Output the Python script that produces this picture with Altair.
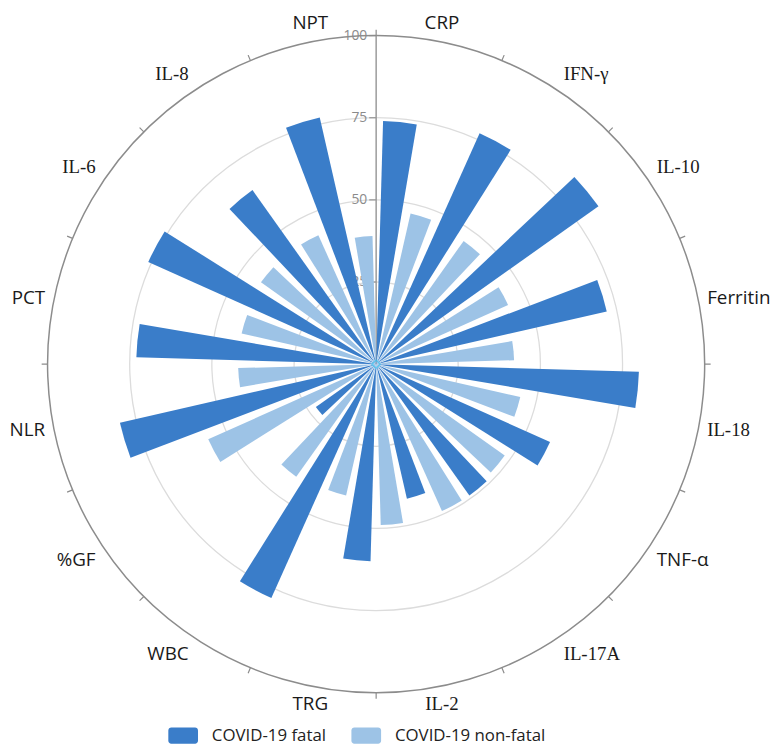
import math
import altair as alt
import pandas as pd

# ---------------- data ----------------
categories = ["CRP", "IFN-γ", "IL-10", "Ferritin", "IL-18", "TNF-α", "IL-17A", "IL-2",
              "TRG", "WBC", "%GF", "NLR", "PCT", "IL-6", "IL-8", "NPT"]
fatal = [74, 77, 83, 72, 80, 58, 49, 42, 60, 78, 22.5, 80, 73, 76, 65, 77]
nonfatal = [47, 46, 44, 42, 45, 48, 49, 49, 41, 42, 56, 42, 42, 43, 43, 39]
series_names = ["COVID-19 fatal", "COVID-19 non-fatal"]
grid_levels = [25, 50, 75]
axis_levels = [25, 50, 75, 100]
axis_max = [100]

# ---------------- layout / style ----------------
W, H = 744, 712
CX, CY = W / 2, H / 2
R = 332
DARK = "#3a7dc9"
LIGHT = "#9dc3e6"
FULL = 6.283  # just under a full turn, so each ring is drawn as a closed arc band

n_cat = len(categories)
n_slot = 2 * n_cat

bars = pd.DataFrame({
    "category": categories * 2,
    "series": [series_names[0]] * n_cat + [series_names[1]] * n_cat,
    "value": fatal + nonfatal,
    "cat_idx": list(range(n_cat)) * 2,
    "ser_idx": [0] * n_cat + [1] * n_cat,
})
labels_df = pd.DataFrame({"label": categories, "pos": list(range(n_cat))})

theta_scale = alt.Scale(domain=[0, 360], range=[0, 2 * math.pi])
r_scale = alt.Scale(type="linear", domain=[0, 100], range=[0, R], zero=True)
y_scale = alt.Scale(type="linear", domain=[0, 100], range=[CY, CY - R], zero=True)


def ring(values, color, width):
    return alt.Chart(pd.DataFrame({"lvl": values})).mark_arc(
        fillOpacity=0, stroke=color, strokeWidth=width
    ).encode(
        theta=alt.value(0), theta2=alt.value(FULL),
        radius=alt.Radius("lvl:Q", scale=r_scale),
        radius2="lvl:Q",
        x=alt.value(CX), y=alt.value(CY),
    )


grid = ring(grid_levels, "#dcdcdc", 1.3)
outer = ring(axis_max, "#8c8c8c", 1.5)

axis_line = alt.Chart(pd.DataFrame({"v": axis_max})).mark_rule(
    color="#9a9a9a", strokeWidth=1.5
).encode(
    x=alt.value(CX), y=alt.Y("v:Q", scale=y_scale, axis=None), y2=alt.value(CY)
)

axis_ticks = alt.Chart(pd.DataFrame({"v": axis_levels})).mark_rule(
    color="#9a9a9a", strokeWidth=1.3
).encode(
    x=alt.value(CX - 7), x2=alt.value(CX), y=alt.Y("v:Q", scale=y_scale, axis=None)
)

axis_text = alt.Chart(pd.DataFrame({"v": axis_levels})).mark_text(
    align="right", baseline="middle", fontSize=14, font="Open Sans", color="#8a8a8a"
).encode(
    x=alt.value(CX - 9), y=alt.Y("v:Q", scale=y_scale, axis=None), text="v:Q"
)

bar_layer = alt.Chart(bars).transform_calculate(
    a0=f"(2 * datum.cat_idx + datum.ser_idx) * 360 / {n_slot}",
    a1=f"(2 * datum.cat_idx + datum.ser_idx + 1) * 360 / {n_slot}",
).mark_arc(padAngle=0.057).encode(
    theta=alt.Theta("a0:Q", scale=theta_scale, stack=False),
    theta2="a1:Q",
    radius=alt.Radius("value:Q", scale=r_scale),
    radius2=alt.value(0),
    color=alt.Color("series:N",
                    scale=alt.Scale(domain=series_names, range=[DARK, LIGHT]),
                    legend=alt.Legend(title=None)),
    x=alt.value(CX), y=alt.value(CY),
)

outer_ticks = alt.Chart(labels_df).transform_calculate(
    ang=f"datum.pos * 360 / {n_cat}"
).mark_arc(fillOpacity=0, stroke="#8c8c8c", strokeWidth=1.2).encode(
    theta=alt.Theta("ang:Q", scale=theta_scale, stack=False),
    theta2="ang:Q",
    radius=alt.value(R + 6), radius2=alt.value(R),
    x=alt.value(CX), y=alt.value(CY),
)

label_layer = alt.Chart(labels_df).transform_calculate(
    ang=f"(datum.pos + 0.5) * 360 / {n_cat}"
).mark_text(
    fontSize=19, color="#1a1a1a",
    align={"expr": "abs(sin(datum.ang * PI / 180)) < 0.4 ? 'center' : (sin(datum.ang * PI / 180) > 0 ? 'left' : 'right')"},
    baseline={"expr": "cos(datum.ang * PI / 180) > 0.45 ? 'bottom' : (cos(datum.ang * PI / 180) < -0.45 ? 'top' : 'middle')"},
    font={"expr": "indexof(datum.label, 'I') == 0 ? 'Liberation Serif' : 'Open Sans'"},
).encode(
    theta=alt.Theta("ang:Q", scale=theta_scale, stack=False),
    radius=alt.value(R + 9),
    text="label:N",
    x=alt.value(CX), y=alt.value(CY),
)

center = alt.Chart(pd.DataFrame({"v": axis_max})).mark_point(
    shape="diamond", filled=False, color="#3fc1f0", size=70, strokeWidth=1.5
).encode(x=alt.value(CX), y=alt.value(CY))

chart = alt.layer(
    grid, axis_line, axis_ticks, axis_text, bar_layer, outer, outer_ticks, label_layer, center
).properties(
    width=W, height=H,
    padding={"left": 0, "top": 0, "right": 28, "bottom": 28},
    autosize="none",
).configure_view(stroke=None).configure_legend(
    orient="none", legendX=162, legendY=716, direction="horizontal",
    symbolType="M-0.8,-0.55H0.8A0.2,0.2 0 0 1 1,-0.35V0.35A0.2,0.2 0 0 1 0.8,0.55H-0.8A0.2,0.2 0 0 1 -1,0.35V-0.35A0.2,0.2 0 0 1 -0.8,-0.55Z",
    symbolSize=900, symbolStrokeWidth=0, symbolOpacity=1,
    labelFontSize=17, labelFont="Open Sans", labelColor="#222222",
    labelOffset=14, columnPadding=25, padding=0,
)

chart.save("out.html", embed_options={"renderer": "svg", "actions": False})
